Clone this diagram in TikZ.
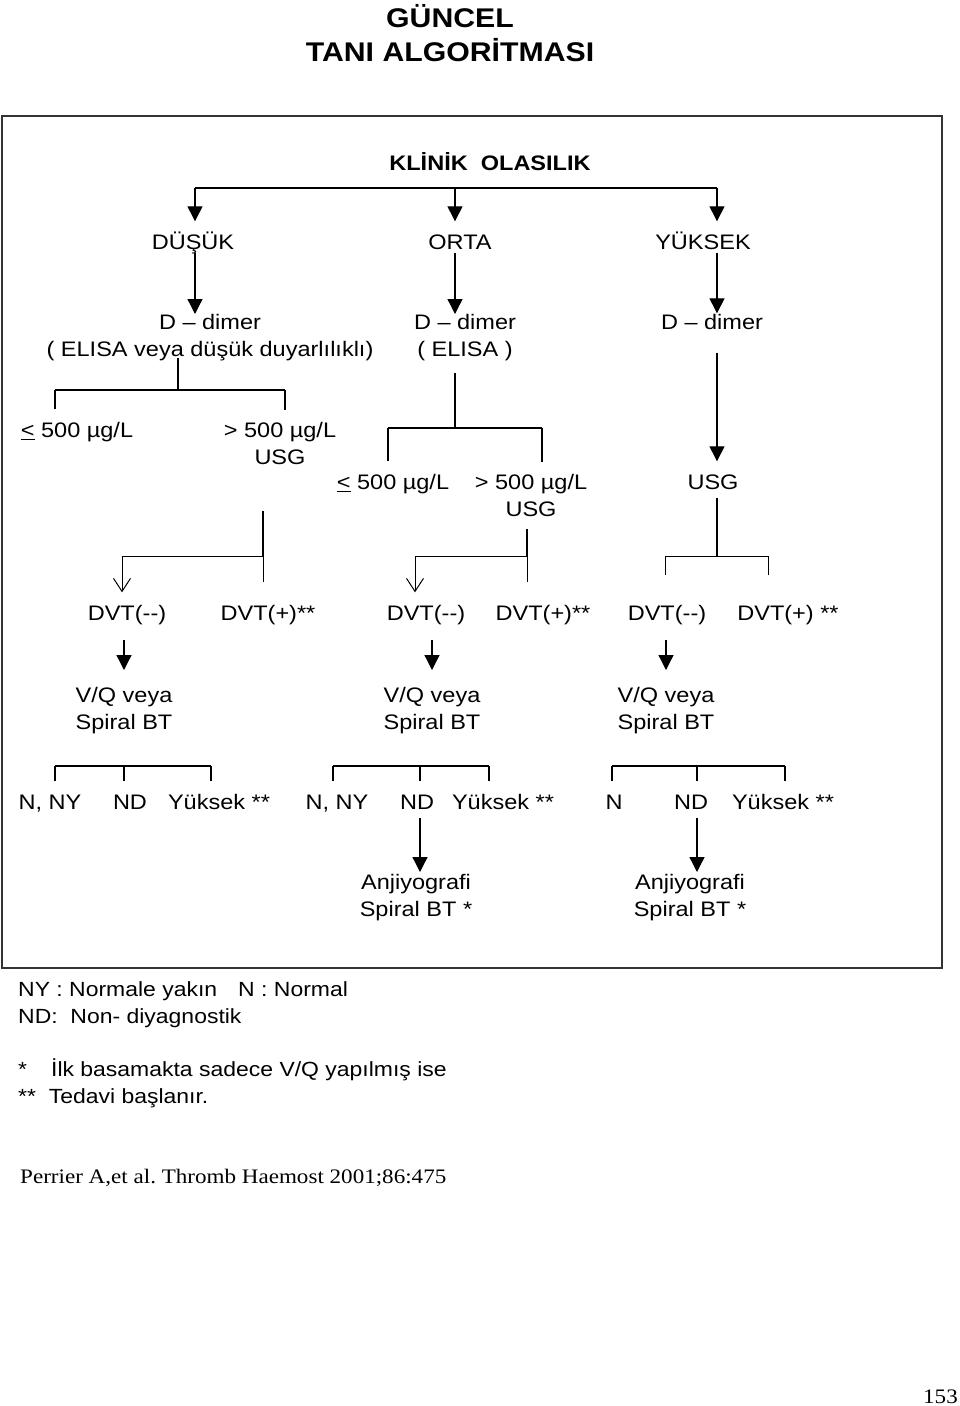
\documentclass[tikz,border=0pt]{standalone}
\usepackage{fontspec}
\newfontfamily\arialx{Liberation Sans}[FakeStretch=1.12]
\newfontfamily\timesx{Liberation Serif}[FakeStretch=1.12]
\usetikzlibrary{positioning,arrows.meta,calc}
\frenchspacing

\newcommand{\diagfont}{\arialx\fontsize{21}{27}\selectfont}
\newcommand{\legfont}{\arialx\fontsize{20.5}{27}\selectfont}
\newcommand{\headfont}{\arialx\bfseries\fontsize{27}{34}\selectfont}
\newcommand{\citefont}{\timesx\fontsize{20.6}{24}\selectfont}

\tikzset{
    txt/.style = {
        font=\diagfont,
        anchor=base,
        inner xsep=2pt,
        inner ysep=3pt,
        text height=25pt,
        text depth=5pt
    },
    txttwo/.style = {
        font=\diagfont,
        anchor=north,
        align=center,
        inner xsep=2pt,
        inner ysep=12pt
    },
    note/.style = {
        font=\legfont,
        anchor=base west,
        inner sep=0pt
    },
    bar/.style = {line width=2pt},
    stem/.style = {line width=1.3pt},
    twig/.style = {line width=1pt},
    vee/.style = {-{Straight Barb[length=13pt,width=17pt]}},
    frame/.style = {draw=black!80, line width=2pt},
    >={Triangle[length=15pt,width=15pt]},
}

\begin{document}
\begin{tikzpicture}[x=1pt,y=-1pt]
    \useasboundingbox (0,0) rectangle (960,1406);

    % heading and frame
    \node[font=\headfont, align=center, anchor=north, inner sep=0pt] (title) at (450,4) {GÜNCEL\\TANI ALGORİTMASI};
    \draw[frame] (2,116) rectangle (942,968);

    % clinical probability
    \node[txt, font=\diagfont\bfseries] (klinik) at (490,170.5) {KLİNİK\ \ OLASILIK};
    \coordinate (topL) at (195,188);
    \coordinate (topM) at (455,188);
    \coordinate (topR) at (717,188);
    \node[txt] (dusuk) at (193,249.5) {DÜŞÜK};
    \node[txt] (orta) at (460,249.5) {ORTA};
    \node[txt] (yuksek) at (703,249.5) {YÜKSEK};

    % d-dimer
    \node[txttwo] (ddimA) at (210,302) {D – dimer\\( ELISA veya düşük duyarlılıklı)};
    \node[txttwo] (ddimB) at (465,302) {D – dimer\\( ELISA )};
    \node[txt] (ddimC) at (712,329.5) {D – dimer};

    % thresholds
    \coordinate (spA) at (178,390);
    \coordinate (spAL) at (55,390);
    \coordinate (spAR) at (285,390);
    \node[txt] (ltA) at (77,437.5) {\underline{<} 500 µg/L};
    \node[txttwo] (gtA) at (280,410) {> 500 µg/L\\USG};
    \coordinate (spB) at (455,428);
    \coordinate (spBL) at (388,428);
    \coordinate (spBR) at (542,428);
    \node[txt] (ltB) at (393,489.5) {\underline{<} 500 µg/L};
    \node[txttwo] (gtB) at (531,462) {> 500 µg/L\\USG};
    \node[txt] (usgC) at (713,489.5) {USG};

    % usg results
    \coordinate (spC) at (263,556);
    \coordinate (spCL) at (122,556);
    \coordinate (spD) at (527,556);
    \coordinate (spDL) at (415,556);
    \coordinate (spE) at (717,556);
    \coordinate (spEL) at (665,556);
    \coordinate (spER) at (768,556);
    \node[txt] (dvtnA) at (127,620.5) {DVT(-{}-)};
    \node[txt] (dvtpA) at (268,620.5) {DVT(+)**};
    \node[txt] (dvtnB) at (426,620.5) {DVT(-{}-)};
    \node[txt] (dvtpB) at (543,620.5) {DVT(+)**};
    \node[txt] (dvtnC) at (667,620.5) {DVT(-{}-)};
    \node[txt] (dvtpC) at (788,620.5) {DVT(+) **};

    % v/q or spiral ct
    \node[txttwo] (vqA) at (124,675) {V/Q veya\\Spiral BT};
    \node[txttwo] (vqB) at (432,675) {V/Q veya\\Spiral BT};
    \node[txttwo] (vqC) at (666,675) {V/Q veya\\Spiral BT};

    % scan results
    \coordinate (rsAL) at (55,766);
    \coordinate (rsAM) at (124,766);
    \coordinate (rsAR) at (211,766);
    \coordinate (rsBL) at (333,766);
    \coordinate (rsBM) at (420,766);
    \coordinate (rsBR) at (489,766);
    \coordinate (rsCL) at (612,766);
    \coordinate (rsCM) at (697,766);
    \coordinate (rsCR) at (785,766);
    \node[txt] (nnyA) at (50,809.5) {N, NY};
    \node[txt] (ndA) at (130,809.5) {ND};
    \node[txt] (yukA) at (219,809.5) {Yüksek **};
    \node[txt] (nnyB) at (337,809.5) {N, NY};
    \node[txt] (ndB) at (417,809.5) {ND};
    \node[txt] (yukB) at (503,809.5) {Yüksek **};
    \node[txt] (nC) at (614,809.5) {N};
    \node[txt] (ndC) at (691,809.5) {ND};
    \node[txt] (yukC) at (783,809.5) {Yüksek **};
    \node[txttwo] (anjB) at (416,862) {Anjiyografi\\Spiral BT *};
    \node[txttwo] (anjC) at (690,862) {Anjiyografi\\Spiral BT *};

    % connectors
    \path[draw, bar] (topL) -- (topR);
    \path[draw, stem, ->] (topL) -- (topL |- dusuk.north);
    \path[draw, stem, ->] (topM) -- (topM |- orta.north);
    \path[draw, stem, ->] (topR) -- (topR |- yuksek.north);
    \path[draw, stem, ->, shorten <=-5pt, shorten >=-12pt] (topL |- dusuk.south) -- (topL |- ddimA.north);
    \path[draw, stem, ->, shorten <=-5pt, shorten >=-12pt] (topM |- orta.south) -- (topM |- ddimB.north);
    \path[draw, stem, ->, shorten <=-5pt, shorten >=-12pt] (topR |- yuksek.south) -- (topR |- ddimC.north);

    \path[draw, stem, shorten <=-15pt] (ddimA.south -| spA) -- (spA);
    \path[draw, bar] (spAL) -- (spAR);
    \path[draw, stem] (spAL) -- (spAL |- ltA.north);
    \path[draw, stem] (spAR) -- (spAR |- gtA.north);
    \path[draw, stem] (ddimB.south -| spB) -- (spB);
    \path[draw, bar] (spBL) -- (spBR);
    \path[draw, stem] (spBL) -- (spBL |- ltB.north);
    \path[draw, stem] (spBR) -- (spBR |- gtB.north);
    \path[draw, stem, ->, shorten <=15pt] (ddimC.south -| topR) -- (topR |- usgC.north);

    \path[draw, stem, shorten <=34pt] (gtA.south -| spC) -- (spC);
    \path[draw, twig] (spCL) -- (spC);
    \path[draw, twig, vee] (spCL) -- (spCL |- dvtnA.north);
    \path[draw, twig, shorten >=10pt] (spC) -- (spC |- dvtpA.north);
    \path[draw, stem] (gtB.south -| spD) -- (spD);
    \path[draw, twig] (spDL) -- (spD);
    \path[draw, twig, vee] (spDL) -- (spDL |- dvtnB.north);
    \path[draw, twig, shorten >=10pt] (spD) -- (spD |- dvtpB.north);
    \path[draw, stem] (usgC.south -| spE) -- (spE);
    \path[draw, twig] (spEL) -- (spER);
    \path[draw, twig, shorten >=17pt] (spEL) -- (spEL |- dvtnC.north);
    \path[draw, twig, shorten >=17pt] (spER) -- (spER |- dvtpC.north);

    \path[draw, stem, ->, shorten <=11pt, shorten >=5pt] (vqA |- dvtnA.south) -- (vqA.north);
    \path[draw, stem, ->, shorten <=11pt, shorten >=5pt] (vqB |- dvtnB.south) -- (vqB.north);
    \path[draw, stem, ->, shorten <=11pt, shorten >=5pt] (vqC |- dvtnC.south) -- (vqC.north);

    \path[draw, bar] (rsAL) -- (rsAR);
    \path[draw, stem] (rsAL) -- (rsAL |- nnyA.north);
    \path[draw, stem] (rsAM) -- (rsAM |- ndA.north);
    \path[draw, stem] (rsAR) -- (rsAR |- yukA.north);
    \path[draw, bar] (rsBL) -- (rsBR);
    \path[draw, stem] (rsBL) -- (rsBL |- nnyB.north);
    \path[draw, stem] (rsBM) -- (rsBM |- ndB.north);
    \path[draw, stem] (rsBR) -- (rsBR |- yukB.north);
    \path[draw, bar] (rsCL) -- (rsCR);
    \path[draw, stem] (rsCL) -- (rsCL |- nC.north);
    \path[draw, stem] (rsCM) -- (rsCM |- ndC.north);
    \path[draw, stem] (rsCR) -- (rsCR |- yukC.north);
    \path[draw, stem, ->, shorten >=-10pt] (rsBM |- ndB.south) -- (rsBM |- anjB.north);
    \path[draw, stem, ->, shorten >=-10pt] (rsCM |- ndC.south) -- (rsCM |- anjC.north);

    % legend
    \node[note] (legA) at (18,996) {NY : Normale yakın\hspace{21pt}N : Normal};
    \node[note] (legB) at (18,1023) {ND:\ \ Non- diyagnostik};
    \node[note] (legC) at (18,1076) {*\hspace{24pt}İlk basamakta sadece V/Q yapılmış ise};
    \node[note] (legD) at (18,1103) {**\ \ Tedavi başlanır.};
    \node[font=\citefont, anchor=base west, inner sep=0pt] (cite) at (20,1183) {Perrier A,et al. Thromb Haemost 2001;86:475};
    \node[font=\citefont, anchor=base east, inner sep=0pt] (page) at (958,1403) {153};
\end{tikzpicture}
\end{document}
